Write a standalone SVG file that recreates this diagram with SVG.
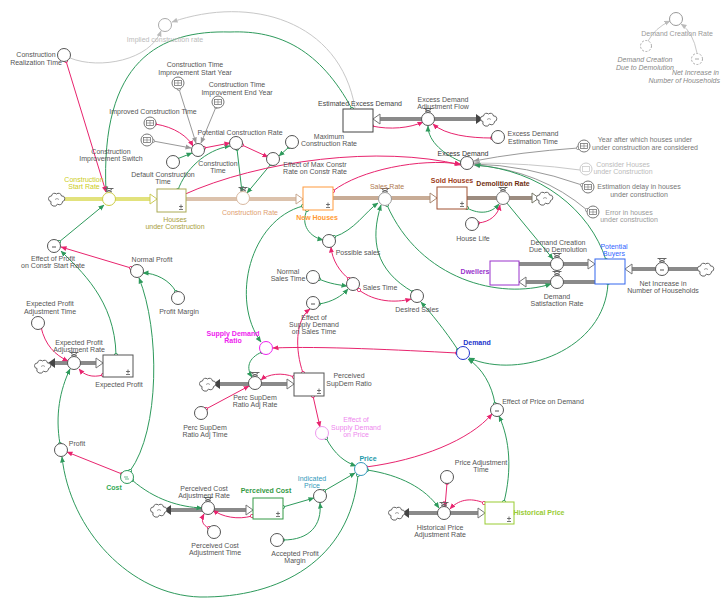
<svg xmlns="http://www.w3.org/2000/svg" xmlns:xlink="http://www.w3.org/1999/xlink" width="722" height="600" viewBox="0 0 722 600">
<style>
text{font-family:"Liberation Sans",Arial,sans-serif;font-size:7px;fill:#555;text-anchor:middle}
.b{font-weight:bold}
.it{font-style:italic;fill:#888}
.aux{fill:#fff;stroke:#555;stroke-width:1}
.stk{fill:#fff;stroke-width:1}
.cg{fill:none;stroke:#2e9a5c;stroke-width:1;marker-start:url(#og);marker-end:url(#ag)}
.cp{fill:none;stroke:#e8246e;stroke-width:1;marker-start:url(#op);marker-end:url(#ap)}
.cgr{fill:none;stroke:#999;stroke-width:1;marker-start:url(#ogr);marker-end:url(#agr)}
.cgl{fill:none;stroke:#c8c8c8;stroke-width:1;marker-end:url(#agl)}
.pipe{fill:none;stroke-width:4}
.hol{fill:#fff;stroke:#777;stroke-width:1}
.fil{fill:#444}
</style>
<defs>
<marker id="ag" viewBox="0 0 6 6" refX="5.5" refY="3" markerWidth="6" markerHeight="6" markerUnits="userSpaceOnUse" orient="auto"><path d="M0,0.5L6,3L0,5.5z" fill="#2e9a5c"/></marker>
<marker id="ap" viewBox="0 0 6 6" refX="5.5" refY="3" markerWidth="6" markerHeight="6" markerUnits="userSpaceOnUse" orient="auto"><path d="M0,0.5L6,3L0,5.5z" fill="#e8246e"/></marker>
<marker id="agr" viewBox="0 0 6 6" refX="5.5" refY="3" markerWidth="6" markerHeight="6" markerUnits="userSpaceOnUse" orient="auto"><path d="M0,0.5L6,3L0,5.5z" fill="#999"/></marker>
<marker id="agl" viewBox="0 0 6 6" refX="5.5" refY="3" markerWidth="6" markerHeight="6" markerUnits="userSpaceOnUse" orient="auto"><path d="M0,0.5L6,3L0,5.5z" fill="#bbb"/></marker>
<marker id="og" viewBox="0 0 6 6" refX="3" refY="3" markerWidth="5" markerHeight="5" markerUnits="userSpaceOnUse"><circle cx="3" cy="3" r="2" fill="#fff" stroke="#2e9a5c"/></marker>
<marker id="op" viewBox="0 0 6 6" refX="3" refY="3" markerWidth="5" markerHeight="5" markerUnits="userSpaceOnUse"><circle cx="3" cy="3" r="2" fill="#fff" stroke="#e8246e"/></marker>
<marker id="ogr" viewBox="0 0 6 6" refX="3" refY="3" markerWidth="5" markerHeight="5" markerUnits="userSpaceOnUse"><circle cx="3" cy="3" r="2" fill="#fff" stroke="#999"/></marker>
<g id="vtop"><path d="M-4.5,-10.5H4.5M-3,-9.5L3,-7M3,-9.5L-3,-7" fill="none" stroke="#666" stroke-width="1"/></g>
<g id="cloud"><path d="M-6,2.5a2.6,2.6 0 0 1 0.5,-5.5a3,3 0 0 1 5,-2a3,3 0 0 1 5,2a2.6,2.6 0 0 1 1,5.5a3,3 0 0 1 -5,2.5a3,3 0 0 1 -6.5,-2.5z" fill="#fff" stroke="#666" stroke-width="1"/><path d="M-2,0.5q2,-2 4,0" fill="none" stroke="#888" stroke-width="0.8"/></g>
<g id="icon"><circle r="6" fill="#fff" stroke="#777"/><rect x="-3.5" y="-2.5" width="7" height="5" fill="none" stroke="#777" stroke-width="0.8"/><path d="M-3.5,0H3.5M0,-2.5V2.5" stroke="#777" stroke-width="0.6"/></g>
<g id="pm"><path d="M-2,-1.5H2M0,-3.5V0.5M-2,1.5H2" stroke="#555" stroke-width="0.8"/></g>
</defs>
<rect width="722" height="600" fill="#fff"/>

<g id="connectors">
<!-- flows -->
<line class="pipe" x1="63" y1="199" x2="151" y2="199" stroke="#e2e27c"/>
<polygon points="150,194 157,199 150,204" fill="#fff" stroke="#cccc55"/>
<line class="pipe" x1="186" y1="199" x2="297" y2="199" stroke="#dcc2ac"/>
<polygon points="296,194 303,199 296,204" fill="#fff" stroke="#c8a890"/>
<line class="pipe" x1="333" y1="198" x2="431" y2="198" stroke="#c8ac96"/>
<polygon points="430,193 437,198 430,203" fill="#fff" stroke="#a88a74"/>
<line class="pipe" x1="467" y1="198" x2="533" y2="198" stroke="#9c8c80"/>
<polygon points="532,193 539,198 532,203" fill="#fff" stroke="#776"/>
<line class="pipe" x1="379" y1="119" x2="477" y2="119" stroke="#8a8a8a"/>
<polygon points="380,114 373,119 380,124" class="hol"/>
<polygon points="476,114 483,119 476,124" class="fil"/>
<line class="pipe" x1="53" y1="363" x2="97" y2="363" stroke="#8a8a8a"/>
<polygon points="55,358 48,363 55,368" class="fil"/>
<polygon points="96,358 103,363 96,368" class="hol"/>
<line class="pipe" x1="218" y1="384" x2="288" y2="384" stroke="#8a8a8a"/>
<polygon points="220,379 213,384 220,389" class="fil"/>
<polygon points="287,379 294,384 287,389" class="hol"/>
<line class="pipe" x1="170" y1="510" x2="247" y2="510" stroke="#8a8a8a"/>
<polygon points="171,505 164,510 171,515" class="fil"/>
<polygon points="246,505 253,510 246,515" class="hol"/>
<line class="pipe" x1="408" y1="513" x2="479" y2="513" stroke="#8a8a8a"/>
<polygon points="409,508 402,513 409,518" class="fil"/>
<polygon points="478,508 485,513 478,518" class="hol"/>
<line class="pipe" x1="519" y1="264" x2="589" y2="264" stroke="#8a8a8a"/>
<polygon points="588,259 595,264 588,269" class="hol"/>
<line class="pipe" x1="595" y1="282" x2="525" y2="282" stroke="#8a8a8a"/>
<polygon points="526,277 519,282 526,287" class="hol"/>
<line class="pipe" x1="700" y1="269" x2="631" y2="269" stroke="#8a8a8a"/>
<polygon points="632,264 625,269 632,274" class="hol"/>

<!-- gray information links -->
<path class="cgl" d="M70,58 C100,70 150,60 161,31"/>
<path class="cgl" d="M355,108 C340,20 250,-5 172,22"/>
<path class="cgr" d="M179,89 L196,143"/>
<path class="cgr" d="M216,107 L201,143"/>
<path class="cgr" d="M153,141 L191,148"/>
<path class="cgr" d="M578,148 Q520,152 474,161"/>
<path class="cgl" d="M580,170 Q530,163 474,163"/>
<path class="cgr" d="M582,185 Q525,165 474,164"/>
<path class="cgr" d="M587,210 Q540,170 474,165"/>
<path class="cgl" d="M648,41 Q655,28 670,21"/>
<path class="cgl" d="M697,53 Q693,32 681,24"/>

<!-- green links -->
<path class="cg" d="M352,109 C320,50 280,30 230,32 C160,30 100,60 106,192"/>
<path class="cg" d="M59,242 L104,205"/>
<path class="cg" d="M608,283 C605,350 520,380 469,358"/>
<path class="cg" d="M606,260 C590,210 540,170 475,165"/>
<path class="cg" d="M506,202 L553,259"/>
<path class="cg" d="M387,205 C420,280 500,300 551,284"/>
<path class="cg" d="M413,292 C375,270 370,240 381,205"/>
<path class="cg" d="M334,237 C355,230 365,212 378,203"/>
<path class="cg" d="M307,210 C300,225 310,237 323,240"/>
<path class="cg" d="M303,206 C250,220 230,300 261,342"/>
<path class="cg" d="M458,350 C445,330 430,312 421,302"/>
<path class="cg" d="M467,208 C480,215 492,213 499,204"/>
<path class="cg" d="M462,162 C445,155 428,142 428,126"/>
<path class="cg" d="M237,149 L242,192"/>
<path class="cg" d="M271,164 L247,193"/>
<path class="cg" d="M178,190 C185,170 205,150 230,146"/>
<path class="cg" d="M289,147 L279,156"/>
<path class="cg" d="M177,159 L192,153"/>
<path class="cg" d="M319,279 C330,284 340,285 347,286"/>
<path class="cg" d="M319,304 C332,302 342,296 348,289"/>
<path class="cg" d="M176,292 C170,280 155,273 143,273"/>
<path class="cg" d="M116,355 C115,300 80,270 61,251"/>
<path class="cg" d="M130,471 C160,430 160,330 139,278"/>
<path class="cg" d="M60,444 C55,415 60,390 70,369"/>
<path class="cg" d="M358,475 C350,560 280,598 200,597 C130,595 70,530 62,457"/>
<path class="cg" d="M132,480 C155,500 180,507 202,508"/>
<path class="cg" d="M283,507 L314,498"/>
<path class="cg" d="M283,540 C310,540 322,525 320,503"/>
<path class="cg" d="M324,491 L355,473"/>
<path class="cg" d="M326,438 C335,455 345,462 356,466"/>
<path class="cg" d="M367,470 C400,475 425,488 439,508"/>
<path class="cg" d="M504,502 C512,470 510,440 499,416"/>
<path class="cg" d="M495,404 C492,385 482,368 468,359"/>
<path class="cg" d="M262,352 C248,358 246,368 252,377"/>

<!-- pink links -->
<path class="cp" d="M66,61 L106,192"/>
<path class="cp" d="M155,124 C175,127 188,137 193,146"/>
<path class="cp" d="M204,148 L230,143"/>
<path class="cp" d="M242,145 L268,157"/>
<path class="cp" d="M183,195 C260,160 380,145 461,165"/>
<path class="cp" d="M333,191 C360,170 420,158 460,164"/>
<path class="cp" d="M372,126 C390,130 410,128 423,122"/>
<path class="cp" d="M492,138 C470,138 445,135 433,124"/>
<path class="cp" d="M478,223 C490,222 498,215 500,205"/>
<path class="cp" d="M131,268 L61,247"/>
<path class="cp" d="M41,327 C45,345 55,355 68,361"/>
<path class="cp" d="M103,375 C92,378 84,375 79,369"/>
<path class="cp" d="M122,474 L67,452"/>
<path class="cp" d="M209,528 C202,525 201,520 204,514"/>
<path class="cp" d="M252,516 C238,520 222,517 213,510"/>
<path class="cp" d="M349,279 C340,272 332,260 331,247"/>
<path class="cp" d="M359,290 C375,302 395,303 411,299"/>
<path class="cp" d="M457,353 C400,350 320,346 273,348"/>
<path class="cp" d="M303,373 C295,350 295,320 310,309"/>
<path class="cp" d="M294,377 C282,372 268,374 261,380"/>
<path class="cp" d="M206,409 L249,386"/>
<path class="cp" d="M313,396 L320,427"/>
<path class="cp" d="M366,467 C420,460 470,440 492,414"/>
<path class="cp" d="M447,483 L445,507"/>
<path class="cp" d="M484,503 C470,497 458,500 450,509"/>
</g>

<!-- nodes -->
<g id="implied-construction-rate"><circle cx="165" cy="25" r="6.5" fill="#fff" stroke="#aaa"/><text x="165" y="41.5" style="fill:#bbb">Implied construction rate</text></g>
<g id="construction-realization-time"><circle class="aux" cx="64" cy="55" r="6.5"/><text x="36" y="56.5">Construction</text><text x="36" y="64.5">Realization Time</text></g>
<g id="ct-improvement-start-year"><use href="#icon" x="178" y="83"/><text x="195" y="66.5">Construction Time</text><text x="195" y="74.5">Improvement Start Year</text></g>
<g id="ct-improvement-end-year"><use href="#icon" x="218" y="102"/><text x="237" y="86.5">Construction Time</text><text x="237" y="94.5">Improvement End Year</text></g>
<g id="improved-construction-time"><use href="#icon" x="150" y="123"/><text x="153" y="113.5">Improved Construction Time</text></g>
<g id="construction-improvement-switch"><use href="#icon" x="147" y="140"/><text x="111" y="153.5">Construction</text><text x="111" y="160.5">Improvement Switch</text></g>
<g id="construction-time"><circle class="aux" cx="198" cy="150" r="6.5"/><text x="218" y="165.5">Construction</text><text x="218" y="172.5">Time</text></g>
<g id="default-construction-time"><circle class="aux" cx="173" cy="162" r="6.5"/><text x="163" y="176.5">Default Construction</text><text x="163" y="183.5">Time</text></g>
<g id="potential-construction-rate"><circle class="aux" cx="236" cy="143" r="6.5"/><text x="240" y="134.5">Potential Construction Rate</text></g>
<g id="maximum-construction-rate"><circle class="aux" cx="292" cy="142" r="6.5"/><text x="329" y="138.5">Maximum</text><text x="329" y="145.5">Construction Rate</text></g>
<g id="effect-of-max-constr-rate"><circle class="aux" cx="273" cy="159" r="6.5"/><text x="315" y="166.5">Effect of Max Constr</text><text x="315" y="173.5">Rate on Constr Rate</text></g>
<g id="construction-start-rate"><use href="#cloud" x="57" y="199"/><circle cx="109" cy="199" r="6.5" fill="#fff" stroke="#cccc44"/><use href="#vtop" x="109" y="199"/><text x="84" y="181.5" style="fill:#cccc22">Construction</text><text x="84" y="188.5" style="fill:#cccc22">Start Rate</text></g>
<g id="houses-under-construction"><rect class="stk" x="157" y="189" width="29" height="23" stroke="#aaaa55"/><use href="#pm" x="181" y="208"/><text x="175" y="221.5" style="fill:#a8a040">Houses</text><text x="175" y="228.5" style="fill:#a8a040">under Construction</text></g>
<g id="construction-rate"><circle cx="243" cy="198" r="6.5" fill="#fff" stroke="#d8b8a0"/><use href="#vtop" x="243" y="198"/><text x="250" y="214.5" style="fill:#e0a070">Construction Rate</text></g>
<g id="new-houses"><rect class="stk" x="303" y="187" width="30" height="23" stroke="#ff9a3c"/><use href="#pm" x="328" y="206"/><text class="b" x="317" y="220" style="fill:#ff9933">New Houses</text></g>
<g id="sales-rate"><circle cx="385" cy="199" r="6.5" fill="#fff" stroke="#999"/><use href="#vtop" x="385" y="199"/><text x="387" y="188.5" style="fill:#b07a50">Sales Rate</text></g>
<g id="sold-houses"><rect class="stk" x="437" y="187" width="30" height="22" stroke="#a05030"/><use href="#pm" x="462" y="205"/><text class="b" x="452" y="182.5" style="fill:#a04020">Sold Houses</text></g>
<g id="demolition-rate"><circle cx="503" cy="198" r="6.5" fill="#fff" stroke="#777"/><use href="#vtop" x="503" y="198"/><use href="#cloud" x="545" y="198"/><text class="b" x="503" y="185.5" style="fill:#703010">Demolition Rate</text></g>
<g id="house-life"><circle class="aux" cx="472" cy="224" r="6.5"/><text x="473" y="240.5">House Life</text></g>
<g id="excess-demand"><circle class="aux" cx="467" cy="163" r="6.5"/><text x="463" y="155.5" style="fill:#333">Excess Demand</text></g>
<g id="excess-demand-estimation-time"><circle class="aux" cx="498" cy="137" r="6.5"/><text x="533" y="135.5">Excess Demand</text><text x="533" y="143.5">Estimation Time</text></g>
<g id="estimated-excess-demand"><rect class="stk" x="343" y="109" width="30" height="23" stroke="#444"/><text x="360" y="105.5" style="fill:#444">Estimated Excess Demand</text></g>
<g id="excess-demand-adjustment-flow"><circle class="aux" cx="428" cy="119" r="6.5"/><use href="#vtop" x="428" y="119"/><use href="#cloud" x="489" y="119"/><text x="443" y="101.5">Excess Demand</text><text x="443" y="108.5">Adjustment Flow</text></g>
<g id="demand-creation-rate"><circle cx="676" cy="19" r="6.5" fill="#fff" stroke="#999"/><text x="677" y="35.5" style="fill:#999">Demand Creation Rate</text></g>
<g id="ghost-demand-creation-due-to-demolition"><circle cx="646" cy="46" r="5.5" fill="#fff" stroke="#aaa" stroke-dasharray="2,1.5"/><text class="it" x="645" y="61.5">Demand Creation</text><text class="it" x="645" y="69.5">Due to Demolution</text></g>
<g id="ghost-net-increase"><circle cx="697" cy="59" r="5.5" fill="#fff" stroke="#aaa" stroke-dasharray="2,1.5"/><path d="M695,59h4" stroke="#aaa"/><text class="it" x="719" y="74.5" style="text-anchor:end">Net Increase in</text><text class="it" x="720" y="82.5" style="text-anchor:end">Number of Households</text></g>
<g id="year-after-which"><use href="#icon" x="584" y="146"/><text x="645" y="141.5" style="fill:#777">Year after which houses under</text><text x="645" y="149.5" style="fill:#777">under construction are considered</text></g>
<g id="consider-houses"><circle cx="586" cy="169" r="6" fill="#fff" stroke="#ccc"/><rect x="582.5" y="166.5" width="7" height="5" fill="none" stroke="#ccc" stroke-width="0.8"/><text x="623" y="166.5" style="fill:#bbb">Consider Houses</text><text x="623" y="173.5" style="fill:#bbb">under Construction</text></g>
<g id="estimation-delay"><use href="#icon" x="588" y="187"/><text x="639" y="188.5" style="fill:#777">Estimation delay in houses</text><text x="639" y="196.5" style="fill:#777">under construction</text></g>
<g id="error-in-houses"><use href="#icon" x="593" y="212"/><text x="629" y="214.5" style="fill:#999">Error in houses</text><text x="629" y="221.5" style="fill:#999">under construction</text></g>
<g id="demand-creation-due-to-demolition"><circle class="aux" cx="557" cy="264" r="6.5"/><use href="#vtop" x="557" y="264"/><text x="558" y="244.5">Demand Creation</text><text x="558" y="251.5">Due to Demolution</text></g>
<g id="demand-satisfaction-rate"><circle class="aux" cx="557" cy="282" r="6.5"/><use href="#vtop" x="557" y="282"/><text x="557" y="298.5">Demand</text><text x="557" y="305.5">Satisfaction Rate</text></g>
<g id="dwellers"><rect class="stk" x="490" y="261" width="29" height="24" stroke="#9933cc"/><text class="b" x="475" y="273.5" style="fill:#9933cc">Dwellers</text></g>
<g id="potential-buyers"><rect class="stk" x="595" y="259" width="30" height="25" stroke="#3366ee"/><text x="614" y="248.5" style="fill:#3366ff">Potential</text><text x="614" y="255.5" style="fill:#3366ff">Buyers</text></g>
<g id="net-increase-in-number-of-households"><circle class="aux" cx="662" cy="269" r="6.5"/><path d="M660,270h4" stroke="#555"/><use href="#vtop" x="662" y="269"/><use href="#cloud" x="706" y="269"/><text x="663" y="285.5">Net Increase in</text><text x="663" y="292.5">Number of Households</text></g>
<g id="effect-of-profit"><circle class="aux" cx="54" cy="246" r="6.5"/><path d="M52,247h4" stroke="#555"/><text x="53" y="260.5">Effect of Profit</text><text x="53" y="267.5">on Constr Start Rate</text></g>
<g id="normal-profit"><circle class="aux" cx="137" cy="271" r="6.5"/><text x="152" y="261.5">Normal Profit</text></g>
<g id="profit-margin"><circle class="aux" cx="178" cy="298" r="6.5"/><text x="179" y="313.5">Profit Margin</text></g>
<g id="expected-profit-adjustment-time"><circle class="aux" cx="38" cy="323" r="6.5"/><text x="50" y="305.5">Expected Profit</text><text x="50" y="313.5">Adjustment Time</text></g>
<g id="expected-profit-adjustment-rate"><use href="#cloud" x="43" y="366"/><circle class="aux" cx="74" cy="363" r="6.5"/><use href="#vtop" x="74" y="363"/><text x="79" y="344.5">Expected Profit</text><text x="79" y="351.5">Adjustment Rate</text></g>
<g id="expected-profit"><rect class="stk" x="103" y="355" width="30" height="22" stroke="#555"/><use href="#pm" x="128" y="373"/><text x="119" y="386.5">Expected Profit</text></g>
<g id="profit"><circle class="aux" cx="61" cy="450" r="6.5"/><text x="77" y="445.5">Profit</text></g>
<g id="cost"><circle class="aux" cx="127" cy="477" r="6.5" style="stroke:#2e9a5c"/><path d="M124,477h4M125,479h4" stroke="#2e9a5c" stroke-width="0.7"/><text class="b" x="114" y="489.5" style="fill:#33aa55">Cost</text></g>
<g id="perceived-cost-adjustment-rate"><use href="#cloud" x="159" y="510"/><circle class="aux" cx="208" cy="508" r="6.5"/><use href="#vtop" x="208" y="508"/><text x="204" y="490.5">Perceived Cost</text><text x="204" y="497.5">Adjustment Rate</text></g>
<g id="perceived-cost-adjustment-time"><circle class="aux" cx="214" cy="532" r="6.5"/><text x="215" y="547.5">Perceived Cost</text><text x="215" y="554.5">Adjustment Time</text></g>
<g id="perceived-cost"><rect class="stk" x="253" y="498" width="30" height="21" stroke="#339944"/><use href="#pm" x="278" y="515"/><text class="b" x="266" y="492.5" style="fill:#339944">Perceived Cost</text></g>
<g id="indicated-price"><circle class="aux" cx="320" cy="496" r="6.5"/><text x="312" y="480.5" style="fill:#3399bb">Indicated</text><text x="312" y="487.5" style="fill:#3399bb">Price</text></g>
<g id="accepted-profit-margin"><circle class="aux" cx="277" cy="540" r="6.5"/><text x="295" y="555.5">Accepted Profit</text><text x="295" y="562.5">Margin</text></g>
<g id="price"><circle class="aux" cx="361" cy="469" r="6.5" style="stroke:#3399bb"/><text class="b" x="368" y="460.5" style="fill:#2299aa">Price</text></g>
<g id="effect-of-supply-demand-on-price"><circle cx="322" cy="433" r="6.5" fill="#fff" stroke="#ee99ee"/><text x="356" y="421.5" style="fill:#ee88ee">Effect of</text><text x="356" y="429.5" style="fill:#ee88ee">Supply Demand</text><text x="356" y="436.5" style="fill:#ee88ee">on Price</text></g>
<g id="historical-price-adjustment-rate"><use href="#cloud" x="397" y="513"/><circle class="aux" cx="444" cy="513" r="6.5"/><use href="#vtop" x="444" y="513"/><text x="440" y="529.5">Historical Price</text><text x="440" y="536.5">Adjustment Rate</text></g>
<g id="price-adjustment-time"><circle class="aux" cx="447" cy="477" r="6.5"/><text x="481" y="464.5">Price Adjustment</text><text x="481" y="471.5">Time</text></g>
<g id="historical-price"><rect class="stk" x="485" y="502" width="29" height="22" stroke="#99cc33"/><use href="#pm" x="509" y="520"/><text class="b" x="539" y="514.5" style="fill:#99cc33">Historical Price</text></g>
<g id="effect-of-price-on-demand"><circle class="aux" cx="497" cy="410" r="6.5"/><path d="M495,411h4" stroke="#555"/><text x="543" y="403.5">Effect of Price on Demand</text></g>
<g id="demand"><circle cx="463" cy="353" r="6.5" fill="#fff" stroke="#2233cc"/><text class="b" x="477" y="344.5" style="fill:#2233cc">Demand</text></g>
<g id="supply-demand-ratio"><circle cx="266" cy="348" r="6.5" fill="#fff" stroke="#ee22ee"/><text class="b" x="233" y="335.5" style="fill:#ee22ee">Supply Demand</text><text class="b" x="233" y="342.5" style="fill:#ee22ee">Ratio</text></g>
<g id="perc-supdem-ratio-adj-rate"><use href="#cloud" x="208" y="384"/><circle class="aux" cx="255" cy="383" r="6.5"/><use href="#vtop" x="255" y="383"/><text x="255" y="399.5">Perc SupDem</text><text x="255" y="406.5">Ratio Adj Rate</text></g>
<g id="perceived-supdem-ratio"><rect class="stk" x="294" y="373" width="30" height="23" stroke="#555"/><use href="#pm" x="319" y="392"/><text x="349" y="377.5">Perceived</text><text x="349" y="385.5">SupDem Ratio</text></g>
<g id="perc-supdem-ratio-adj-time"><circle class="aux" cx="201" cy="413" r="6.5"/><text x="205" y="429.5">Perc SupDem</text><text x="205" y="436.5">Ratio Adj Time</text></g>
<g id="effect-of-supply-demand-on-sales-time"><circle class="aux" cx="313" cy="303" r="6.5"/><path d="M311,304h4" stroke="#555"/><text x="314" y="319.5">Effect of</text><text x="314" y="326.5">Supply Demand</text><text x="314" y="333.5">on Sales Time</text></g>
<g id="sales-time"><circle class="aux" cx="353" cy="284" r="6.5"/><text x="380" y="289.5">Sales Time</text></g>
<g id="normal-sales-time"><circle class="aux" cx="313" cy="277" r="6.5"/><text x="288" y="273.5">Normal</text><text x="288" y="280.5">Sales Time</text></g>
<g id="possible-sales"><circle class="aux" cx="329" cy="241" r="6.5"/><text x="358" y="254.5">Possible sales</text></g>
<g id="desired-sales"><circle class="aux" cx="417" cy="296" r="6.5"/><text x="417" y="311.5">Desired Sales</text></g>
</svg>
